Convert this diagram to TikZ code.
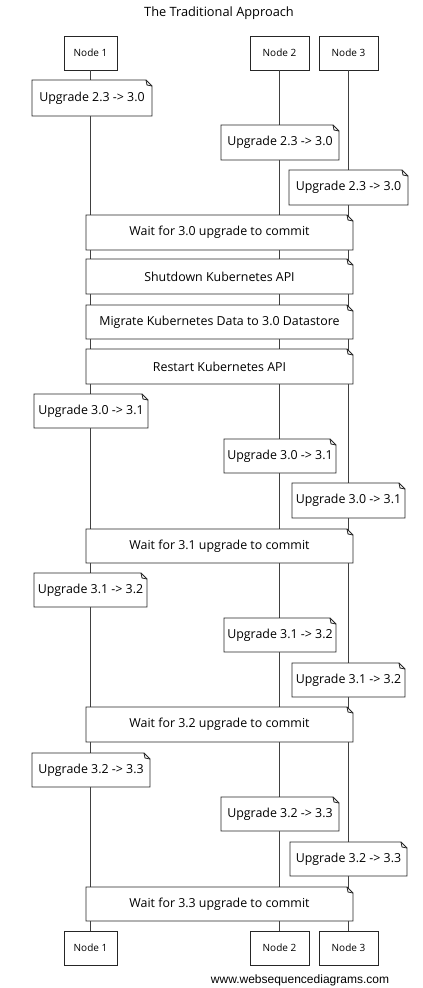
\documentclass[tikz,border=0pt]{standalone}
\usepackage{fontspec}
\setmainfont{Open Sans}
\newfontfamily\footfont{Liberation Sans}
\tikzset{
  boxline/.style={draw=black!85, line width=0.8pt, fill=white},
  lifeline/.style={draw=black!75, line width=0.6pt},
  partbox/.style={boxline, minimum width=53pt, minimum height=34pt, inner sep=0pt, font=\fontsize{10}{12}\selectfont},
  notetext/.style={inner sep=0pt, font=\fontsize{12.4}{14}\selectfont},
}
\newcommand\notebox[6]{%
  \filldraw[boxline] (#2,#3) -- ({#4-6},#3) -- (#4,{#3+6}) -- (#4,#5) -- (#2,#5) -- cycle;
  \draw[boxline, fill=none] ({#4-6},#3) -- ({#4-5},{#3+5}) -- (#4,{#3+6});
  \node[notetext] (#1) at ({(#2+#4)/2},{(#3+#5)/2}) {#6};
}
\begin{document}
\begin{tikzpicture}[x=1pt, y=-1pt]
\useasboundingbox[fill=white] (0,0) rectangle (423,988);
\node[font=\fontsize{12.8}{14}\selectfont] (title) at (219,13) {The Traditional Approach};
% participants
\node[partbox] (p1) at (90.5,53) {Node 1};
\node[partbox, minimum width=59pt] (p2) at (279.5,53) {Node 2};
\node[partbox, minimum width=59pt] (p3) at (348.5,53) {Node 3};
\node[partbox] (q1) at (90.5,948) {Node 1};
\node[partbox, minimum width=59pt] (q2) at (279.5,948) {Node 2};
\node[partbox, minimum width=59pt] (q3) at (348.5,948) {Node 3};
% lifelines
\draw[lifeline] (p1.south) -- (q1.north);
\draw[lifeline] (p2.south) -- (q2.north);
\draw[lifeline] (p3.south) -- (q3.north);
% notes
\notebox{n1}{32}{80}{152}{116}{Upgrade 2.3 -> 3.0}
\notebox{n2}{221}{125}{339}{160}{Upgrade 2.3 -> 3.0}
\notebox{n3}{289}{170}{408}{205}{Upgrade 2.3 -> 3.0}
\notebox{n4}{86}{215}{353}{250}{Wait for 3.0 upgrade to commit}
\notebox{n5}{86}{259}{353}{294}{Shutdown Kubernetes API}
\notebox{n6}{86}{305}{353}{339}{Migrate Kubernetes Data to 3.0 Datastore}
\notebox{n7}{86}{349}{353}{384}{Restart Kubernetes API}
\notebox{n8}{34}{394}{148}{428}{Upgrade 3.0 -> 3.1}
\notebox{n9}{224}{439}{336}{473}{Upgrade 3.0 -> 3.1}
\notebox{n10}{292}{483}{405}{518}{Upgrade 3.0 -> 3.1}
\notebox{n11}{86}{529}{353}{563}{Wait for 3.1 upgrade to commit}
\notebox{n12}{34}{573}{147}{607}{Upgrade 3.1 -> 3.2}
\notebox{n13}{224}{618}{336}{652}{Upgrade 3.1 -> 3.2}
\notebox{n14}{292}{663}{405}{697}{Upgrade 3.1 -> 3.2}
\notebox{n15}{86}{707}{353}{742}{Wait for 3.2 upgrade to commit}
\notebox{n16}{32}{753}{150}{787}{Upgrade 3.2 -> 3.3}
\notebox{n17}{221}{797}{339}{831}{Upgrade 3.2 -> 3.3}
\notebox{n18}{290}{842}{407}{876}{Upgrade 3.2 -> 3.3}
\notebox{n19}{86}{887}{353}{921}{Wait for 3.3 upgrade to commit}
\node[font=\footfont\fontsize{12}{14}\selectfont] (foot) at (300,980) {www.websequencediagrams.com};
\end{tikzpicture}
\end{document}
